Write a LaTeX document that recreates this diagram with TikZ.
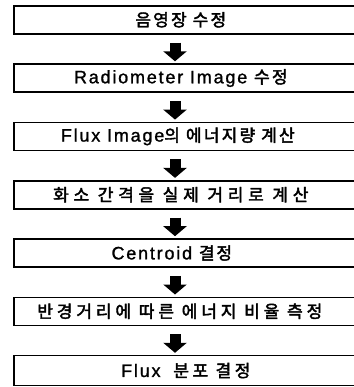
\documentclass[tikz,border=0pt]{standalone}
\usepackage{fontspec}
\setmainfont{Liberation Sans}
\newfontfamily\hgfont{Noto Sans CJK KR}[FakeBold=2.4]
\newfontfamily\latfont{Liberation Sans}[FakeBold=1.2]
\usetikzlibrary{arrows.meta}
\tikzset{
  stepbox/.style={draw=black, line width=1.6pt, minimum width=350pt, minimum height=28pt, inner sep=0pt, anchor=north west},
  steptext/.style={font=\fontsize{17pt}{17pt}\selectfont, inner sep=0pt, text=black},
  bigarrow/.style={line width=11pt, -{Triangle[width=23pt,length=10pt]}}
}
\newcommand{\La}[2]{{\latfont\fontsize{18pt}{18pt}\selectfont\addfontfeature{LetterSpace=#1}#2}}
\newcommand{\Hg}[2]{{\hgfont\addfontfeature{LetterSpace=#1}#2}}
\begin{document}
\begin{tikzpicture}[x=1pt,y=-1pt]
\useasboundingbox (0,0) rectangle (353,387);
\fill[white] (0,0) rectangle (353,387);
% boxes
\node[stepbox] (b1) at (13,5) {};
\node[stepbox] (b2) at (13,63.3) {};
\node[stepbox] (b3) at (13,121.6) {};
\node[stepbox] (b4) at (13,179.9) {};
\node[stepbox] (b5) at (13,238.2) {};
\node[stepbox] (b6) at (13,296.5) {};
\node[stepbox, minimum height=30pt] (b7) at (13,354.8) {};
% texts
\node[steptext] (t1) at ([xshift=-8pt]b1.center) {\Hg{13}{음영장 수정}};
\node[steptext] (t2) at ([xshift=-8pt]b2.center) {\La{10}{Radiometer Image }\Hg{13}{수정}};
\node[steptext] (t3) at ([xshift=-11pt]b3.center) {\La{10}{Flux Image}\Hg{13}{의 에너지량 계산}};
\node[steptext] (t4) at ([xshift=-8pt]b4.center) {\Hg{28}{화소 간격을 실제 거리로 계산}};
\node[steptext] (t5) at ([xshift=-17pt]b5.center) {\La{10}{Centroid }\Hg{11}{결정}};
\node[steptext] (t6) at ([xshift=-9pt]b6.center) {\Hg{23}{반경거리에 따른 에너지 비율 측정}};
\node[steptext] (t7) at ([xshift=-3pt]b7.center) {\La{10}{Flux }\hspace{6pt}\Hg{21}{분포 결정}};
% arrows
\foreach \a/\b in {b1/b2,b2/b3,b3/b4,b4/b5,b5/b6,b6/b7}{
  \draw[bigarrow] ([xshift=162pt,yshift=-8pt]\a.south west) -- ([xshift=162pt,yshift=2pt]\b.north west);
}
\end{tikzpicture}
\end{document}
